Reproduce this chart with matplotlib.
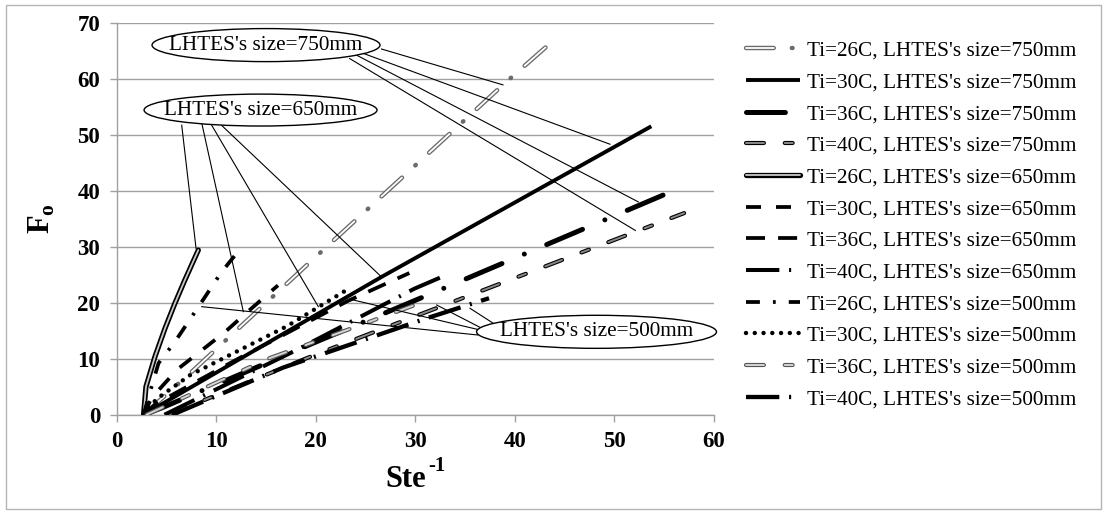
import matplotlib
matplotlib.use("Agg")
import matplotlib.pyplot as plt
from matplotlib.patches import Ellipse, Rectangle
from matplotlib.legend_handler import HandlerTuple

plt.rcParams["font.family"] = ["Liberation Serif", "DejaVu Serif"]
plt.rcParams["mathtext.fontset"] = "custom"
plt.rcParams["mathtext.rm"] = "Liberation Serif"
plt.rcParams["mathtext.bf"] = "Liberation Serif:bold"
plt.rcParams["lines.scale_dashes"] = False

# ---- data: Fo versus inverse Stefan number -------------------------------
x_26_750 = [2.7, 7.5, 20.0, 38.8, 44.3]
y_26_750 = [0.0, 7.6, 28.2, 58.9, 67.5]
x_30_750 = [2.7, 26.6, 53.7]
y_30_750 = [0.0, 24.6, 51.5]
x_36_750 = [2.7, 4.5, 19.5, 32.1, 55.0]
y_36_750 = [0.0, 1.2, 12.6, 22.0, 39.3]
x_40_750 = [5.2, 20.2, 57.0]
y_40_750 = [0.0, 10.9, 36.0]

x_26_650 = [2.7, 2.94, 3.85, 4.85, 5.85, 6.86, 8.2]
y_26_650 = [0.0, 5.0, 10.4, 15.4, 19.9, 24.1, 29.4]
x_30_650 = [2.7, 3.5, 6.1, 8.4, 10.9, 13.1, 16.2]
y_30_650 = [0.0, 3.0, 8.1, 11.3, 14.8, 18.3, 23.1]
x_36_650 = [2.7, 4.0, 12.0, 23.2, 29.4]
y_36_650 = [0.0, 2.0, 9.8, 20.3, 25.3]
x_40_650 = [4.8, 18.0, 29.9, 33.3]
y_40_650 = [0.0, 11.5, 22.5, 25.1]

x_26_500 = [2.7, 3.5, 4.2, 5.8, 8.3, 10.5, 12.4]
y_26_500 = [0.0, 5.0, 9.2, 12.9, 19.5, 25.4, 29.6]
x_30_500 = [2.7, 4.0, 7.4, 17.1, 23.4]
y_30_500 = [0.0, 2.8, 7.1, 15.8, 22.6]
x_36_500 = [3.0, 15.2, 23.1, 31.5]
y_36_500 = [0.0, 10.0, 15.1, 20.6]
x_40_500 = [5.6, 16.7, 31.1, 37.4]
y_40_500 = [0.0, 8.4, 17.2, 20.8]

labels = [
    "Ti=26C, LHTES's size=750mm", "Ti=30C, LHTES's size=750mm",
    "Ti=36C, LHTES's size=750mm", "Ti=40C, LHTES's size=750mm",
    "Ti=26C, LHTES's size=650mm", "Ti=30C, LHTES's size=650mm",
    "Ti=36C, LHTES's size=650mm", "Ti=40C, LHTES's size=650mm",
    "Ti=26C, LHTES's size=500mm", "Ti=30C, LHTES's size=500mm",
    "Ti=36C, LHTES's size=500mm", "Ti=40C, LHTES's size=500mm",
]
series = [
    (x_26_750, y_26_750), (x_30_750, y_30_750), (x_36_750, y_36_750), (x_40_750, y_40_750),
    (x_26_650, y_26_650), (x_30_650, y_30_650), (x_36_650, y_36_650), (x_40_650, y_40_650),
    (x_26_500, y_26_500), (x_30_500, y_30_500), (x_36_500, y_36_500), (x_40_500, y_40_500),
]

# callout labels and the points their leader lines reach
callout_text = ["LHTES's size=750mm", "LHTES's size=650mm", "LHTES's size=500mm"]
leader_750 = [((26.6, 65.3), (38.8, 58.9)), ((24.8, 64.5), (49.55, 48.3)),
              ((24.1, 64.2), (52.4, 38.0)), ((23.4, 63.6), (52.1, 32.9))]
leader_650 = [((6.53, 51.7), (7.97, 29.7)), ((8.54, 52.1), (12.72, 18.4)),
              ((9.54, 51.7), (20.25, 19.3)), ((10.58, 51.6), (26.6, 24.6))]
leader_500 = [((36.29, 14.23), (8.54, 19.29)), ((36.49, 15.13), (23.77, 20.48)),
              ((36.6, 15.5), (32.14, 19.59)), ((37.83, 16.32), (35.49, 19.0))]

# ---- line styles (outer stroke, optional inner stroke) --------------------
styles = [
    dict(c="#6a6a6a", lw=3.2, dashes=(20, 13, 0.5, 13), inner=("white", 1.3, (20, 26.5))),
    dict(c="black", lw=2.8, dashes=None),
    dict(c="black", lw=3.6, dashes=(28, 17.5, 0.01, 17.5), cap="round"),
    dict(c="black", lw=3.0, dashes=(12.9, 15, 5.7, 15), inner=("#8a8a8a", 1.4, (12.9, 15, 5.7, 15))),
    dict(c="black", lw=3.8, dashes=None, inner=("#c8c8c8", 1.3, None)),
    dict(c="black", lw=2.7, dashes=(10.8, 10.8)),
    dict(c="black", lw=2.7, dashes=(13.7, 9.4)),
    dict(c="black", lw=2.9, dashes=(24, 7, 1.5, 7)),
    dict(c="black", lw=2.7, dashes=(10, 9.4, 2, 9.4)),
    dict(c="black", lw=3.2, dashes=(0.01, 6.3), cap="round"),
    dict(c="#555555", lw=3.0, dashes=(12.9, 15, 5.7, 15), inner=("#d4d4d4", 1.4, (12.9, 15, 5.7, 15))),
    dict(c="black", lw=3.1, dashes=(24, 7, 1.5, 7)),
]

FS = 15.3

fig = plt.figure(figsize=(11.07, 5.14), dpi=100)
ax = fig.add_axes([116.7 / 1107, 1 - 414.7 / 514, (714 - 116.7) / 1107, (414.7 - 22.7) / 514])

handles = []
for (xs, ys), st in zip(series, styles):
    inner = st.get("inner")
    cap = st.get("cap", "round" if inner else "butt")
    kw = dict(color=st["c"], lw=st["lw"], dash_capstyle=cap, solid_capstyle=cap, zorder=3)
    if st["dashes"] is not None:
        kw["dashes"] = st["dashes"]
    (outer,) = ax.plot(xs, ys, **kw)
    if inner:
        ic, ilw, idash = inner
        ikw = dict(color=ic, lw=ilw, dash_capstyle="round", solid_capstyle="round", zorder=3)
        if idash is not None:
            ikw["dashes"] = idash
        (inn,) = ax.plot(xs, ys, **ikw)
        handles.append((outer, inn))
    else:
        handles.append(outer)

# ---- callouts ----------------------------------------------------------------
for group in (leader_750, leader_650, leader_500):
    for (x0, y0), (x1, y1) in group:
        ax.plot([x0, x1], [y0, y1], color="black", lw=0.8, zorder=5, clip_on=False)

ell_centres = [(15.0, 66.0), (14.45, 54.4), (48.2, 14.8)]
ell_sizes = [(22.9, 5.9), (23.4, 5.7), (24.1, 5.9)]
for txt, (cx, cy), (w, h) in zip(callout_text, ell_centres, ell_sizes):
    ax.add_patch(Ellipse((cx, cy), w, h, facecolor="white", edgecolor="black",
                         lw=1.0, zorder=6, clip_on=False))
    ax.text(cx, cy, txt, ha="center", va="center", fontsize=FS, zorder=7)

# ---- axes ----------------------------------------------------------------------
ax.set_xlim(0, 60)
ax.set_ylim(0, 70)
ax.set_xticks(range(0, 61, 10))
ax.set_yticks(range(0, 71, 10))
ax.yaxis.grid(True, color="#a0a0a0", lw=1.0)
ax.set_axisbelow(True)
for s in ("top", "right"):
    ax.spines[s].set_visible(False)
for s in ("left", "bottom"):
    ax.spines[s].set_color("#a0a0a0")
    ax.spines[s].set_linewidth(1.0)
ax.tick_params(direction="out", length=5, width=1, color="#a0a0a0", pad=7, labelsize=16.5)
for lab in ax.get_xticklabels() + ax.get_yticklabels():
    lab.set_fontweight("bold")

ax.set_xlabel("Ste", fontsize=22, fontweight="bold")
ax.xaxis.set_label_coords(0.483, -0.128)
ax.annotate("-1", xy=(1, 1), xycoords=ax.xaxis.label, xytext=(2, -1),
            textcoords="offset points", ha="left", va="center",
            fontsize=15, fontweight="bold")
ax.set_ylabel(r"$\mathbf{F}_{\mathbf{o}}$", fontsize=22)
ax.yaxis.set_label_coords(-0.1, 0.5)

ax.legend(handles, labels, loc="upper left", bbox_to_anchor=(746 / 1107, 1 - 41 / 514),
          bbox_transform=fig.transFigure, frameon=False, fontsize=FS,
          handlelength=2.55, handletextpad=0.3, labelspacing=0.555, borderpad=0,
          borderaxespad=0, handler_map={tuple: HandlerTuple(ndivide=1, pad=0)})

fig.patches.append(Rectangle((6 / 1107, 5 / 514), 1095 / 1107, 504 / 514,
                             transform=fig.transFigure, fill=False,
                             edgecolor="#b5b5b5", lw=1.0))

fig.savefig("out.png", dpi=100)
